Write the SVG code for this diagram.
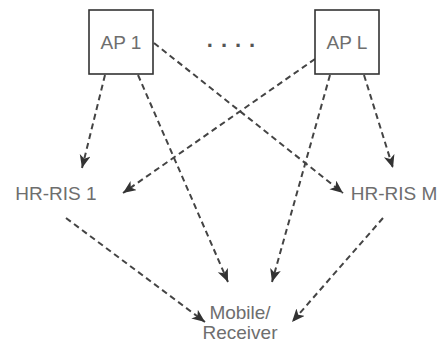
<svg xmlns="http://www.w3.org/2000/svg" width="443" height="347" viewBox="0 0 443 347">
<defs>
<marker id="arr" markerUnits="userSpaceOnUse" markerWidth="15" markerHeight="13" refX="13" refY="5.5" orient="auto" viewBox="0 0 15 13">
<path d="M0,0 L13,5.5 L0,11 L3.5,5.5 Z" fill="#333"/>
</marker>
<style>
.box{fill:#fff;stroke:#333;stroke-width:1.6}
.t{font-family:"Liberation Sans",Arial,sans-serif;font-size:19px;fill:#6e6e6e;text-anchor:middle}
.e{fill:none;stroke:#444;stroke-width:2;stroke-dasharray:6 4;marker-end:url(#arr)}
</style>
</defs>
<rect width="443" height="347" fill="#fff"/>
<g id="connectors">
<line class="e" x1="105" y1="75" x2="82" y2="168"/>
<line class="e" x1="138" y1="75" x2="228" y2="282"/>
<line class="e" x1="154" y1="43" x2="343" y2="193"/>
<line class="e" x1="315" y1="59" x2="123" y2="193"/>
<line class="e" x1="330" y1="75" x2="272" y2="282"/>
<line class="e" x1="364" y1="75" x2="393" y2="168"/>
<line class="e" x1="66" y1="218" x2="205" y2="322"/>
<line class="e" x1="383" y1="218" x2="292" y2="322"/>
</g>
<g id="ap1">
<rect class="box" x="89" y="10" width="64" height="64"/>
<text class="t" x="121" y="49">AP 1</text>
</g>
<g id="apL">
<rect class="box" x="315" y="10" width="64" height="64"/>
<text class="t" x="347" y="49">AP L</text>
</g>
<g id="dots">
<text class="t" x="235" y="47" letter-spacing="8" style="font-size:22px;font-weight:bold;fill:#555">....</text>
</g>
<g id="hrris1">
<text class="t" x="56" y="200">HR-RIS 1</text>
</g>
<g id="hrrisM">
<text class="t" x="394" y="200">HR-RIS M</text>
</g>
<g id="mobile">
<text class="t" x="240" y="319">Mobile/</text>
<text class="t" x="240" y="339">Receiver</text>
</g>
</svg>
